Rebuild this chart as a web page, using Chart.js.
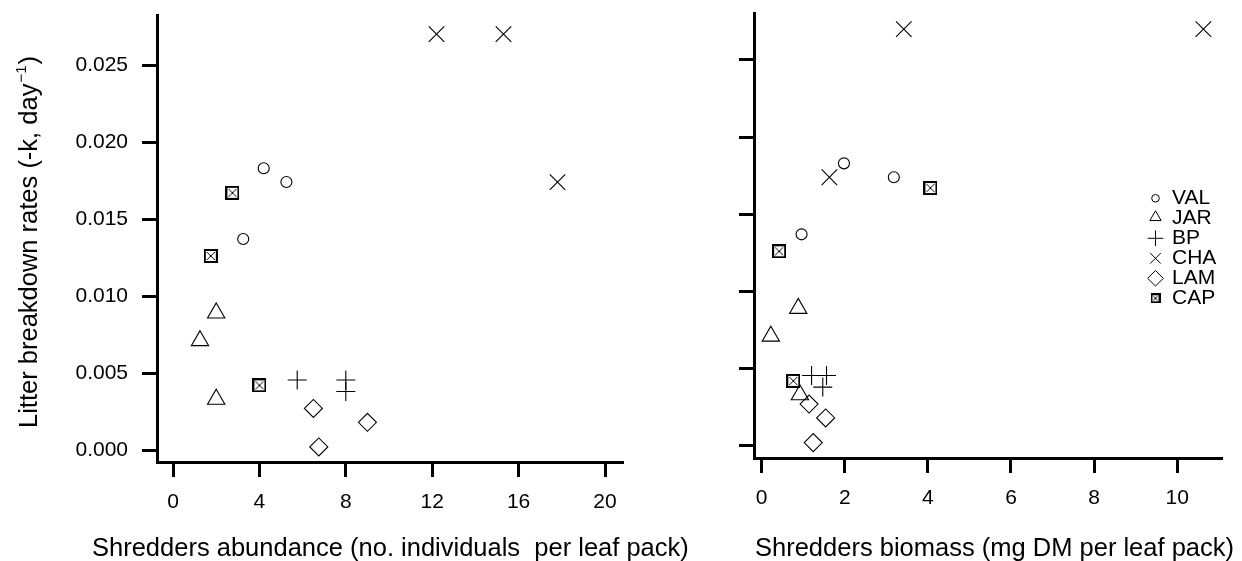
<!DOCTYPE html>
<html>
<head>
<meta charset="utf-8">
<script src="https://cdn.jsdelivr.net/npm/chart.js"></script>
<style>
  html, body { margin: 0; padding: 0; background: #fff; }
  #wrap { position: relative; width: 1242px; height: 561px; }
  canvas { position: absolute; top: 0; }
  #abund { left: 0; }
  #biom { left: 700px; }
</style>
</head>
<body>
<div id="wrap">
  <canvas id="abund" width="700" height="561"></canvas>
  <canvas id="biom" width="542" height="561"></canvas>
</div>
<script>
// sites, in legend order
const sites = ["VAL", "JAR", "BP", "CHA", "LAM", "CAP"];

// litter breakdown rate (-k, per day), three leaf packs per site
const rateVAL = [0.0183, 0.0174, 0.0137];
const rateJAR = [0.0089, 0.0071, 0.0033];
const rateBP  = [0.00455, 0.00455, 0.0038];
const rateCHA = [0.0270, 0.0270, 0.0174];
const rateLAM = [0.0027, 0.0018, 0.0002];
const rateCAP = [0.0167, 0.0126, 0.0042];

// shredders per leaf pack (no. individuals)
const abundVAL = [4.2, 5.25, 3.25];
const abundJAR = [2.0, 1.25, 2.0];
const abundBP  = [5.75, 8.0, 8.0];
const abundCHA = [12.2, 15.3, 17.8];
const abundLAM = [6.5, 9.0, 6.75];
const abundCAP = [2.75, 1.75, 4.0];

// shredder biomass (mg DM per leaf pack)
const biomVAL = [1.98, 3.18, 0.96];
const biomJAR = [0.88, 0.22, 0.92];
const biomBP  = [1.2, 1.56, 1.47];
const biomCHA = [3.42, 10.63, 1.63];
const biomLAM = [1.14, 1.54, 1.24];
const biomCAP = [4.06, 0.42, 0.76];

const abundTicks = [0, 4, 8, 12, 16, 20];
const biomTicks = [0, 2, 4, 6, 8, 10];
const rateTicks = [0, 0.005, 0.010, 0.015, 0.020, 0.025];

const rates = {VAL: rateVAL, JAR: rateJAR, BP: rateBP, CHA: rateCHA, LAM: rateLAM, CAP: rateCAP};
const abund = {VAL: abundVAL, JAR: abundJAR, BP: abundBP, CHA: abundCHA, LAM: abundLAM, CAP: abundCAP};
const biom = {VAL: biomVAL, JAR: biomJAR, BP: biomBP, CHA: biomCHA, LAM: biomLAM, CAP: biomCAP};

const FONT = "'Liberation Sans', Arial, sans-serif";

// square with an x inside, used for CAP
function boxX(size, lw) {
  const c = document.createElement('canvas');
  c.width = c.height = size;
  const g = c.getContext('2d');
  g.strokeStyle = '#000';
  g.lineWidth = lw;
  g.strokeRect(lw / 2, lw / 2, size - lw, size - lw);
  g.lineWidth = 1;
  g.beginPath();
  g.moveTo(lw + 1, lw + 1); g.lineTo(size - lw - 1, size - lw - 1);
  g.moveTo(size - lw - 1, lw + 1); g.lineTo(lw + 1, size - lw - 1);
  g.stroke();
  return c;
}

const marks = {
  VAL: {style: 'circle', radius: 5.5},
  JAR: {style: 'triangle', radius: 10},
  BP:  {style: 'cross', radius: 9.5},
  CHA: {style: 'crossRot', radius: 11},
  LAM: {style: 'rectRot', radius: 9},
  CAP: {style: boxX(14, 2), radius: 7}
};
const legendMarks = {
  VAL: {style: 'circle', radius: 3.8},
  JAR: {style: 'triangle', radius: 6.5, dy: -1},
  BP:  {style: 'cross', radius: 7.8},
  CHA: {style: 'crossRot', radius: 7.5},
  LAM: {style: 'rectRot', radius: 7.8},
  CAP: {style: boxX(10, 2), radius: 5}
};

function datasets(xs) {
  return sites.map(s => ({
    label: s,
    data: xs[s].map((x, i) => ({x: x, y: rates[s][i]})),
    pointStyle: marks[s].style,
    pointRadius: marks[s].radius,
    pointBorderWidth: 1.1,
    borderColor: '#000',
    backgroundColor: 'rgba(0,0,0,0)',
    clip: false
  }));
}

function axis(min, max, ticks, size, horizontal, labels, fmt) {
  return {
    type: 'linear',
    min: min,
    max: max,
    afterBuildTicks: s => { s.ticks = ticks.map(v => ({value: v})); },
    afterFit: s => {
      // fixed axis box, no extra room for overhanging labels
      if (horizontal) s.height = size; else s.width = size;
      s.paddingTop = s.paddingBottom = s.paddingLeft = s.paddingRight = 0;
    },
    border: {display: true, color: '#000', width: 3},
    grid: {drawOnChartArea: false, drawTicks: true, tickLength: 15, tickWidth: 3, tickColor: '#000'},
    ticks: {
      display: labels,
      autoSkip: false,
      maxRotation: 0,
      padding: horizontal ? 13 : 14,
      color: '#000',
      font: {family: FONT, size: 21},
      callback: fmt
    }
  };
}

// axis titles drawn straight onto the canvas (y title has a superscript)
const axisTitles = {
  id: 'axisTitles',
  afterDraw(chart, args, opts) {
    const ctx = chart.ctx;
    ctx.save();
    ctx.fillStyle = '#000';
    ctx.textAlign = 'left';
    ctx.textBaseline = 'alphabetic';
    if (opts.x) {
      ctx.font = '25.5px ' + FONT;
      ctx.fillText(opts.x.text, opts.x.left, opts.x.base);
    }
    if (opts.y) {
      ctx.translate(opts.y.base, opts.y.start);
      ctx.rotate(-Math.PI / 2);
      ctx.font = '25.5px ' + FONT;
      ctx.fillText(opts.y.text, 0, 0);
      let w = ctx.measureText(opts.y.text).width;
      ctx.font = '15px ' + FONT;
      ctx.fillText(opts.y.sup, w + 1, -11);
      w += ctx.measureText(opts.y.sup).width + 2;
      ctx.font = '25.5px ' + FONT;
      ctx.fillText(opts.y.tail, w, 0);
    }
    ctx.restore();
  }
};

const siteLegend = {
  id: 'siteLegend',
  afterDraw(chart, args, opts) {
    if (!opts.x) return;
    const ctx = chart.ctx;
    ctx.save();
    chart.data.datasets.forEach((ds, i) => {
      const y = opts.y + i * opts.step;
      const m = legendMarks[ds.label];
      ctx.strokeStyle = '#000';
      ctx.fillStyle = 'rgba(0,0,0,0)';
      ctx.lineWidth = 1;
      Chart.helpers.drawPoint(ctx, {pointStyle: m.style, radius: m.radius, rotation: 0, borderWidth: 1}, opts.x, y + (m.dy || 0));
      ctx.fillStyle = '#000';
      ctx.font = '21px ' + FONT;
      ctx.textAlign = 'left';
      ctx.textBaseline = 'middle';
      ctx.fillText(ds.label, opts.textX, y);
    });
    ctx.restore();
  }
};

const base = {
  responsive: false,
  animation: false,
  events: [],
  plugins: {legend: {display: false}, tooltip: {enabled: false}}
};

// shredder abundance panel
new Chart(document.getElementById('abund'), {
  type: 'scatter',
  data: {datasets: datasets(abund)},
  plugins: [axisTitles],
  options: Object.assign({}, base, {
    layout: {padding: {top: 15, right: 77, bottom: 0, left: 0}},
    scales: {
      x: axis(-0.741, 20.833, abundTicks, 99, true, true, v => String(v)),
      y: axis(-0.000779, 0.028247, rateTicks, 157, false, true, v => v.toFixed(3))
    },
    plugins: Object.assign({}, base.plugins, {
      axisTitles: {
        x: {text: 'Shredders abundance (no. individuals  per leaf pack)', left: 92, base: 556},
        y: {text: 'Litter breakdown rates (-k, day', sup: '\u22121', tail: ')', base: 36.5, start: 428}
      }
    })
  })
});

// shredder biomass panel
new Chart(document.getElementById('biom'), {
  type: 'scatter',
  data: {datasets: datasets(biom)},
  plugins: [axisTitles, siteLegend],
  options: Object.assign({}, base, {
    layout: {padding: {top: 13, right: 20, bottom: 0, left: 0}},
    scales: {
      x: axis(-0.185, 11.078, biomTicks, 103, true, true, v => String(v)),
      y: axis(-0.000797, 0.028046, rateTicks, 54, false, false, () => '')
    },
    plugins: Object.assign({}, base.plugins, {
      axisTitles: {
        x: {text: 'Shredders biomass (mg DM per leaf pack)', left: 55, base: 556}
      },
      siteLegend: {x: 455.5, textX: 472, y: 198.3, step: 20}
    })
  })
});
</script>
</body>
</html>
